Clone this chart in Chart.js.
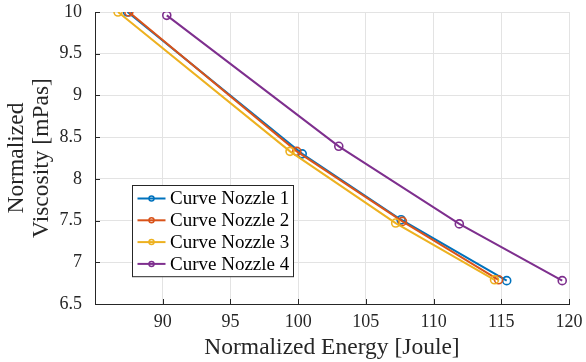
<!DOCTYPE html>
<html>
<head>
<meta charset="utf-8">
<script src="https://cdn.jsdelivr.net/npm/chart.js@4.4.1/dist/chart.umd.min.js"></script>
<style>
  html, body { margin: 0; padding: 0; background: #fff; }
  #wrap { width: 586px; height: 362px; position: relative; }
</style>
</head>
<body>
<div id="wrap"><canvas id="c"></canvas></div>
<script>
// Normalized energy (x) and viscosity (y) for each nozzle
const energyNozzle1 = [87.4, 100.3, 107.6, 115.4];
const viscNozzle1   = [10.0, 8.30, 7.51, 6.78];
const energyNozzle2 = [87.5, 99.9, 107.7, 114.8];
const viscNozzle2   = [10.0, 8.33, 7.49, 6.79];
const energyNozzle3 = [86.7, 99.4, 107.2, 114.5];
const viscNozzle3   = [10.0, 8.33, 7.47, 6.79];
const energyNozzle4 = [90.3, 103.0, 111.9, 119.5];
const viscNozzle4   = [9.96, 8.39, 7.46, 6.78];

const seriesLabels = ['Curve Nozzle 1', 'Curve Nozzle 2', 'Curve Nozzle 3', 'Curve Nozzle 4'];
const xTicks = [90, 95, 100, 105, 110, 115, 120];
const yTicks = [6.5, 7, 7.5, 8, 8.5, 9, 9.5, 10];

const colors = ['#0072BD', '#D95319', '#EDB120', '#7E2F8E'];
const axisColor = '#262626';
const gridColor = '#e3e3e3';
const serif = "'Liberation Serif', 'DejaVu Serif', serif";

function toPoints(xs, ys) { return xs.map((x, i) => ({ x: x, y: ys[i] })); }

const seriesData = [
  toPoints(energyNozzle1, viscNozzle1),
  toPoints(energyNozzle2, viscNozzle2),
  toPoints(energyNozzle3, viscNozzle3),
  toPoints(energyNozzle4, viscNozzle4)
];

const datasets = seriesData.map((pts, i) => ({
  label: seriesLabels[i],
  data: pts,
  showLine: true,
  borderColor: colors[i],
  backgroundColor: 'rgba(0,0,0,0)',
  borderWidth: 2,
  pointRadius: 4,
  pointBorderWidth: 1.6,
  pointBorderColor: colors[i],
  pointBackgroundColor: 'rgba(0,0,0,0)',
  tension: 0,
  order: seriesLabels.length - i   // later series drawn on top
}));

// inward tick marks on the left and bottom axes
const inwardTicks = {
  id: 'inwardTicks',
  afterDatasetsDraw(chart) {
    const { ctx, chartArea: a, scales: { x, y } } = chart;
    ctx.save();
    ctx.strokeStyle = axisColor;
    ctx.lineWidth = 1;
    ctx.beginPath();
    xTicks.forEach(v => {
      const px = Math.round(x.getPixelForValue(v)) + 0.5;
      ctx.moveTo(px, a.bottom);
      ctx.lineTo(px, a.bottom - 5);
    });
    yTicks.forEach(v => {
      const py = Math.round(y.getPixelForValue(v)) + 0.5;
      ctx.moveTo(a.left, py);
      ctx.lineTo(a.left + 5, py);
    });
    ctx.stroke();
    ctx.restore();
  }
};

// boxed legend inside the plot area
const boxLegend = {
  id: 'boxLegend',
  afterDraw(chart) {
    const { ctx } = chart;
    const left = 132.5, top = 185.5, w = 161, rowH = 21.8;
    const h = rowH * chart.data.datasets.length + 4;
    ctx.save();
    ctx.fillStyle = '#ffffff';
    ctx.fillRect(left, top, w, h);
    ctx.strokeStyle = axisColor;
    ctx.lineWidth = 1;
    ctx.strokeRect(left, top, w, h);
    ctx.font = '19px ' + serif;
    ctx.textBaseline = 'middle';
    ctx.textAlign = 'left';
    chart.data.datasets.forEach((ds, i) => {
      const cy = top + 13 + i * rowH;
      ctx.strokeStyle = ds.borderColor;
      ctx.lineWidth = 2;
      ctx.beginPath();
      ctx.moveTo(left + 5, cy);
      ctx.lineTo(left + 33, cy);
      ctx.stroke();
      ctx.lineWidth = 1.5;
      ctx.beginPath();
      ctx.arc(left + 19, cy, 2.5, 0, Math.PI * 2);
      ctx.stroke();
      ctx.fillStyle = '#000000';
      ctx.fillText(ds.label, left + 37.5, cy + 1);
    });
    ctx.restore();
  }
};

new Chart(document.getElementById('c'), {
  type: 'scatter',
  data: { datasets: datasets },
  plugins: [inwardTicks, boxLegend],
  options: {
    responsive: true,
    maintainAspectRatio: false,
    animation: false,
    layout: { padding: { left: 0, right: 17, top: 12, bottom: 0 } },
    plugins: { legend: { display: false }, tooltip: { enabled: false } },
    scales: {
      x: {
        type: 'linear',
        min: 85,
        max: 120,
        afterBuildTicks(scale) { scale.ticks = xTicks.map(v => ({ value: v })); },
        afterFit(scale) {
          scale.height = 58;
          scale.paddingLeft = 0;
          scale.paddingRight = 0;
        },
        grid: { color: gridColor, drawTicks: false, lineWidth: 1 },
        border: { color: axisColor, width: 1 },
        ticks: {
          padding: 7,
          color: axisColor,
          font: { family: serif, size: 18, lineHeight: 1.2 },
          maxRotation: 0,
          callback: v => String(v)
        },
        title: {
          display: true,
          text: 'Normalized Energy [Joule]',
          color: axisColor,
          font: { family: serif, size: 23.5, lineHeight: 1.2 },
          padding: { top: 0, bottom: 0 }
        }
      },
      y: {
        type: 'linear',
        min: 6.5,
        max: 10,
        afterBuildTicks(scale) { scale.ticks = yTicks.map(v => ({ value: v })); },
        afterFit(scale) {
          scale.width = 95;
          scale.paddingTop = 0;
          scale.paddingBottom = 0;
        },
        grid: { color: gridColor, drawTicks: false, lineWidth: 1 },
        border: { color: axisColor, width: 1 },
        ticks: {
          padding: 13,
          color: axisColor,
          font: { family: serif, size: 18, lineHeight: 1.2 },
          callback: v => String(v)
        },
        title: {
          display: true,
          text: ['Normalized', 'Viscosity [mPas]'],
          color: axisColor,
          font: { family: serif, size: 23.5, lineHeight: 1.064 },
          padding: { top: 4.5, bottom: 0 }
        }
      }
    }
  }
});
</script>
</body>
</html>
